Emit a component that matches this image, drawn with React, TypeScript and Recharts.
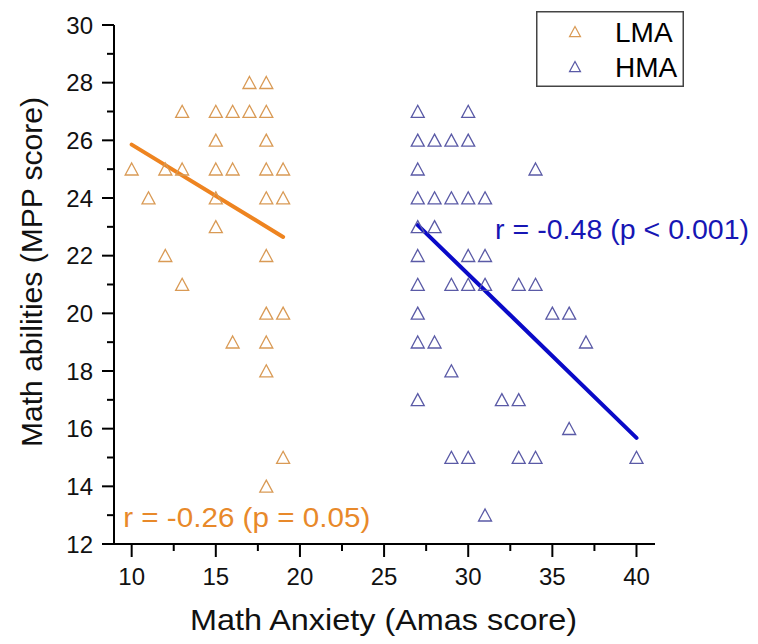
import React from "react";
import {
  ScatterChart,
  Scatter,
  XAxis,
  YAxis,
  ReferenceLine,
  ReferenceDot,
  Legend,
} from "recharts";

// Low math anxiety group: [Amas score, MPP score]
const lmaPoints = [
  [10, 25], [11, 24], [12, 25], [12, 22], [13, 27], [13, 25], [13, 21],
  [15, 27], [15, 26], [15, 25], [15, 24], [15, 23], [16, 27], [16, 25],
  [16, 19], [17, 28], [17, 27], [18, 28], [18, 27], [18, 26], [18, 25],
  [18, 24], [18, 22], [18, 20], [18, 19], [18, 18], [18, 14], [19, 25],
  [19, 24], [19, 20], [19, 15],
];

// High math anxiety group
const hmaPoints = [
  [27, 27], [30, 27], [27, 26], [28, 26], [29, 26], [30, 26], [27, 25],
  [34, 25], [27, 24], [28, 24], [29, 24], [30, 24], [31, 24], [27, 23],
  [28, 23], [27, 22], [30, 22], [31, 22], [27, 21], [29, 21], [30, 21],
  [31, 21], [33, 21], [34, 21], [27, 20], [35, 20], [36, 20], [27, 19],
  [28, 19], [37, 19], [29, 18], [27, 17], [32, 17], [33, 17], [36, 16],
  [29, 15], [30, 15], [33, 15], [34, 15], [40, 15], [31, 13],
];

// fitted lines
const lmaFit = [[10, 25.85], [19, 22.65]];
const hmaFit = [[27, 23.06], [40, 15.68]];

const lmaLabel = "r = -0.26 (p = 0.05)";
const hmaLabel = "r = -0.48 (p < 0.001)";

const xMajorTicks = [10, 15, 20, 25, 30, 35, 40];
const xMinorTicks = [12.5, 17.5, 22.5, 27.5, 32.5, 37.5];
const yMajorTicks = [12, 14, 16, 18, 20, 22, 24, 26, 28, 30];
const yMinorTicks = [13, 15, 17, 19, 21, 23, 25, 27, 29];

const legendItems = [
  { name: "LMA", color: "#D99A55" },
  { name: "HMA", color: "#5A5AA6" },
];

const font = "'Liberation Sans', Arial, sans-serif";

const toXY = (pts: number[][]) => pts.map(([x, y]) => ({ x, y }));

const triPath = (cx: number, cy: number, s: number) =>
  `M${cx},${cy - s} L${cx + s},${cy + s * 0.85} L${cx - s},${cy + s * 0.85} Z`;

const triangle = (color: string) => (props: any) => {
  const { cx, cy } = props;
  if (cx == null || cy == null) return <g />;
  return <path d={triPath(cx, cy + 0.3, 6.5)} fill="none" stroke={color} strokeWidth={1.3} />;
};

const renderXTick = (props: any) => {
  const { x, y, payload } = props;
  const major = xMajorTicks.includes(payload.value);
  return (
    <g>
      <line x1={x} y1={y} x2={x} y2={y + (major ? 13 : 7)} stroke="#000" strokeWidth={2} />
      {major && (
        <text x={x} y={y + 41} textAnchor="middle" fontSize={24} fontFamily={font} fill="#111">
          {payload.value}
        </text>
      )}
    </g>
  );
};

const renderYTick = (props: any) => {
  const { x, y, payload } = props;
  const major = yMajorTicks.includes(payload.value);
  return (
    <g>
      <line x1={x} y1={y} x2={x - (major ? 12 : 7)} y2={y} stroke="#000" strokeWidth={2} />
      {major && (
        <text x={x - 21} y={y + 8.5} textAnchor="end" fontSize={24} fontFamily={font} fill="#111">
          {payload.value}
        </text>
      )}
    </g>
  );
};

const renderLegend = () => (
  <svg width={148} height={76} style={{ display: "block" }}>
    <rect x={0.75} y={0.75} width={146.5} height={74.5} fill="#fff" stroke="#444" strokeWidth={1.5} />
    {legendItems.map((item, i) => (
      <g key={item.name}>
        <path d={triPath(39, 21 + i * 35, 5.5)} fill="none" stroke={item.color} strokeWidth={1.2} />
        <text x={79} y={31 + i * 35} fontSize={28} fontFamily={font} fill="#000">
          {item.name}
        </text>
      </g>
    ))}
  </svg>
);

const annot = (text: string, color: string, len: number) => (props: any) => {
  const vb = props.viewBox || {};
  return (
    <text
      x={vb.x}
      y={vb.y}
      fontSize={28}
      fontFamily={font}
      fill={color}
      textLength={len}
      lengthAdjust="spacingAndGlyphs"
    >
      {text}
    </text>
  );
};

export default function App() {
  return (
    <div style={{ position: "relative", width: 750, height: 628, background: "#fff" }}>
      <ScatterChart width={750} height={628} margin={{ top: 17, right: 103, bottom: 0, left: 0 }}>
        <XAxis
          type="number"
          dataKey="x"
          domain={[8.95, 41.1]}
          allowDataOverflow
          ticks={[...xMajorTicks, ...xMinorTicks].sort((a, b) => a - b)}
          interval={0}
          tickSize={0}
          tickMargin={0}
          tickLine={false}
          tick={renderXTick}
          axisLine={{ stroke: "#000", strokeWidth: 2 }}
          height={92}
          label={(p: any) => (
            <text
              x={375.5}
              y={622}
              textAnchor="middle"
              fontSize={29}
              fontFamily={font}
              fill="#111"
              textLength={387}
              lengthAdjust="spacingAndGlyphs"
            >
              Math Anxiety (Amas score)
            </text>
          )}
        />
        <YAxis
          type="number"
          dataKey="y"
          domain={[12, 30]}
          allowDataOverflow
          ticks={[...yMajorTicks, ...yMinorTicks].sort((a, b) => a - b)}
          interval={0}
          tickSize={0}
          tickMargin={0}
          tickLine={false}
          tick={renderYTick}
          axisLine={{ stroke: "#000", strokeWidth: 2 }}
          width={106}
          label={(p: any) => (
            <text
              x={34}
              y={264}
              transform="rotate(-90, 34, 264)"
              textAnchor="middle"
              fontSize={29}
              fontFamily={font}
              fill="#111"
              textLength={350}
              lengthAdjust="spacingAndGlyphs"
            >
              Math abilities (MPP score)
            </text>
          )}
        />
        <Legend
          layout="vertical"
          align="center"
          verticalAlign="middle"
          content={renderLegend}
          wrapperStyle={{ left: 528, top: 3, width: 148, height: 76 }}
        />
        <Scatter name="LMA" data={toXY(lmaPoints)} shape={triangle(legendItems[0].color)} isAnimationActive={false} />
        <Scatter name="HMA" data={toXY(hmaPoints)} shape={triangle(legendItems[1].color)} isAnimationActive={false} />
        <ReferenceLine
          segment={toXY(lmaFit)}
          stroke="#EE8420"
          strokeWidth={4}
          strokeLinecap="round"
        />
        <ReferenceLine
          segment={toXY(hmaFit)}
          stroke="#0A0AC8"
          strokeWidth={4}
          strokeLinecap="round"
        />
        <ReferenceDot x={31.6} y={22.58} r={0} fill="none" stroke="none" label={annot(hmaLabel, "#1616B4", 254)} />
        <ReferenceDot x={9.5} y={12.59} r={0} fill="none" stroke="none" label={annot(lmaLabel, "#E8892A", 247)} />
      </ScatterChart>
    </div>
  );
}
